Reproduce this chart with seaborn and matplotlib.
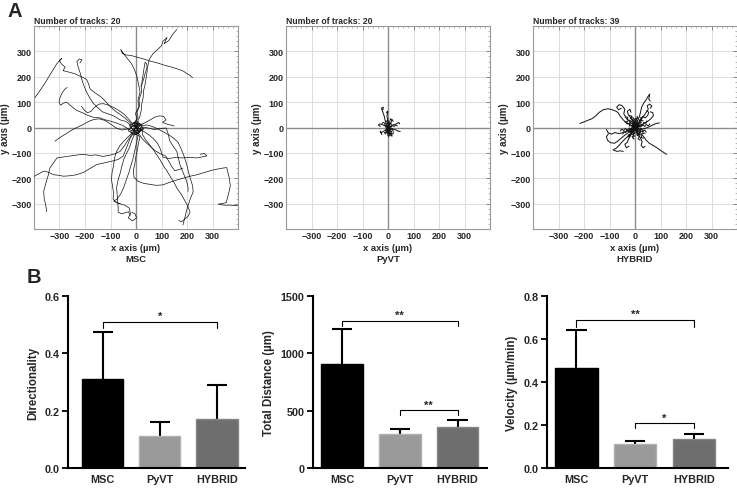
import numpy as np
import pandas as pd
import seaborn as sns
import matplotlib.pyplot as plt
from matplotlib.ticker import MultipleLocator

sns.set_theme(style="white")
plt.rcParams['font.family'] = ['Liberation Sans', 'DejaVu Sans']
plt.rcParams['font.weight'] = 'bold'
plt.rcParams['axes.labelweight'] = 'bold'

# ---- Panel A: cell tracks (x, y in um) ----
msc_tracks = [
    [(0,0),(-12,8),(10,-6),(6,12),(-4,22),(8,38),(4,60),(14,85),(12,110),(22,140),(20,165),(30,190),(36,215),(46,240),(52,268),(66,290),(82,305),(100,322),(106,340),(122,355),(110,330),(128,342),(146,370),(160,386)],
    [(0,0),(14,-8),(22,6),(6,18),(-6,18),(4,34),(-2,55),(10,80),(8,108),(16,140),(10,170),(4,200),(-6,228),(-18,252),(-34,272),(-48,290),(-60,308),(-54,292),(-40,286),(-20,284),(8,276),(30,270),(55,262),(82,255),(110,246),(140,238),(165,230),(186,222),(200,212),(212,205),(222,196)],
    [(0,0),(-8,-14),(6,-22),(18,-8),(4,6),(-12,8),(-26,22),(-42,36),(-60,50),(-78,62),(-92,74),(-110,92),(-126,110),(-142,124),(-160,136),(-180,152),(-186,172),(-194,190),(-214,200),(-240,212),(-262,218),(-286,224),(-278,238),(-292,250),(-300,264),(-292,272),(-310,252),(-326,226),(-342,200),(-360,170),(-378,144),(-396,118)],
    [(0,0),(16,10),(28,-4),(12,-16),(-14,-6),(-22,10),(-40,24),(-62,30),(-88,46),(-110,54),(-132,62),(-152,80),(-168,96),(-182,118),(-194,140),(-204,164),(-212,188),(-218,212),(-226,236),(-232,260),(-222,270),(-212,266),(-220,254)],
    [(0,0),(-10,16),(-26,10),(-18,-4),(-30,-6),(-52,8),(-72,16),(-96,24),(-120,30),(-142,38),(-166,40),(-190,48),(-210,58),(-234,68),(-254,84),(-272,100),(-284,96),(-296,88),(-302,100),(-298,118),(-290,136),(-280,150),(-270,158)],
    [(0,0),(10,-20),(-6,-30),(-22,-18),(-16,-12),(-34,-6),(-56,-10),(-78,-2),(-100,14),(-122,28),(-144,34),(-164,32),(-186,24),(-206,12),(-224,4),(-240,-4),(-258,-14),(-276,-26),(-296,-38),(-318,-54)],
    [(0,0),(20,-6),(10,-24),(-8,-20),(-22,-40),(-34,-72),(-50,-112),(-70,-126),(-92,-132),(-118,-138),(-154,-146),(-178,-160),(-204,-176),(-232,-186),(-258,-190),(-284,-192),(-306,-188),(-324,-186),(-344,-176),(-362,-172),(-380,-182),(-396,-190),(-412,-206)],
    [(0,0),(-20,6),(-30,-14),(-12,-22),(-28,-44),(-44,-70),(-62,-94),(-84,-104),(-106,-110),(-130,-114),(-156,-108),(-180,-110),(-204,-106),(-228,-108),(-256,-112),(-284,-116),(-310,-120),(-324,-140),(-338,-160),(-344,-188),(-352,-214),(-362,-252),(-360,-280),(-354,-306),(-350,-332)],
    [(0,0),(8,14),(-10,20),(-18,2),(-6,-26),(-16,-50),(-26,-80),(-38,-104),(-48,-126),(-56,-154),(-62,-180),(-70,-206),(-76,-236),(-74,-262),(-72,-290),(-70,-316),(-70,-334),(-56,-340),(-42,-336),(-30,-332),(-22,-346)],
    [(0,0),(-14,-8),(-4,-28),(10,-18),(6,-42),(0,-70),(-6,-96),(-12,-124),(-20,-150),(-28,-178),(-38,-206),(-48,-236),(-60,-262),(-74,-282),(-88,-290),(-66,-300),(-44,-306),(-26,-318),(-22,-340),(-30,-356),(-14,-368),(2,-356),(-4,-340),(-16,-334)],
    [(0,0),(-10,-12),(8,-24),(24,-10),(26,-28),(36,-46),(52,-66),(68,-88),(82,-108),(96,-130),(108,-152),(122,-172),(136,-196),(150,-218),(162,-242),(178,-264),(190,-286),(202,-308),(212,-334),(204,-350),(190,-362),(178,-372),(168,-366)],
    [(0,0),(12,-16),(-4,-24),(16,-36),(10,-60),(6,-86),(0,-112),(-4,-140),(-10,-168),(-8,-196),(8,-212),(30,-220),(54,-224),(80,-228),(106,-226),(132,-216),(156,-208),(184,-200),(212,-192),(240,-186),(266,-178),(292,-170),(318,-164),(340,-160),(356,-158),(360,-176),(366,-200),(370,-230),(364,-256),(358,-280),(354,-296),(336,-300),(322,-302),(344,-306),(370,-306),(392,-308),(410,-310)],
    [(0,0),(6,18),(24,12),(18,-8),(34,-18),(52,-30),(68,-44),(84,-62),(96,-86),(106,-118),(130,-122),(156,-118),(182,-120),(210,-118),(238,-120),(258,-116),(278,-112),(268,-102),(252,-106)],
    [(0,0),(-8,20),(8,24),(20,6),(42,10),(64,4),(86,-6),(108,-18),(130,-30),(150,-44),(166,-60),(176,-82),(186,-106),(194,-130),(200,-150),(206,-176),(214,-204),(222,-230),(224,-254),(214,-278),(206,-302),(198,-328),(192,-354),(184,-384)],
    [(0,0),(12,-14),(30,-6),(24,2),(48,-2),(72,-8),(96,-4),(118,-2),(126,-24),(132,-52),(146,-74),(160,-94),(166,-120),(172,-146),(184,-176),(198,-210),(204,-236),(204,-252)],
    [(0,0),(-6,14),(16,10),(34,18),(52,28),(72,40),(92,46),(108,44),(118,30),(104,20),(126,12),(150,6)],
    [(0,0),(14,4),(4,20),(14,40),(20,64),(22,90),(28,118),(30,146),(36,172),(40,198),(44,224),(42,250),(36,258),(32,236),(28,210),(24,184),(22,160)],
    [(0,0),(8,-10),(-10,-16),(-26,-32),(-44,-50),(-62,-70),(-76,-94),(-84,-120),(-88,-150),(-94,-178),(-96,-206),(-92,-232),(-88,-258),(-90,-282),(-76,-296),(-62,-300)],
    [(0,0),(10,12),(-14,16),(-28,32),(-46,52),(-66,66),(-86,78),(-108,88),(-128,94),(-146,92),(-162,80),(-176,64),(-190,58),(-204,70),(-214,84)],
    [(0,0),(-10,-8),(12,-26),(26,-46),(42,-62),(58,-76),(76,-92),(96,-104),(116,-112),(128,-132),(140,-154),(152,-170),(168,-166),(184,-160)],
]

pyvt_tracks = [
    [(0,0),(-4,8),(-8,18),(-12,30),(-14,42),(-18,54),(-22,66),(-26,76),(-18,80),(-20,70)],
    [(0,0),(4,10),(0,22),(-2,34),(-4,46),(-2,56),(-4,62),(-1,64),(-5,58)],
    [(0,0),(8,-2),(16,-4),(24,-8),(32,-10),(40,-14),(48,-16)],
    [(0,0),(10,4),(18,10),(28,12),(36,16),(42,20),(46,14)],
    [(0,0),(4,-8),(8,-16),(4,-24),(10,-30),(16,-34),(12,-26)],
    [(0,0),(-6,-6),(-12,-12),(-20,-16),(-26,-22),(-30,-14),(-24,-28)],
    [(0,0),(-8,4),(-16,8),(-24,12),(-32,14),(-38,10),(-30,4)],
    [(0,0),(4,8),(10,16),(14,26),(8,34),(16,32),(20,24)],
    [(0,0),(6,-6),(-2,-10),(6,-14),(2,-20),(10,-22),(4,-28)],
    [(0,0),(-4,6),(4,10),(-2,14),(6,18),(0,24),(8,26)],
    [(0,0),(8,4),(4,-4),(12,-2),(10,-10),(18,-8),(20,-16)],
    [(0,0),(-6,-2),(-2,-8),(-10,-10),(-6,-18),(-14,-20),(-10,-26)],
    [(0,0),(2,-10),(-4,-16),(2,-22),(-2,-30),(6,-32),(2,-36)],
    [(0,0),(6,6),(12,2),(18,8),(24,4),(30,10),(36,6)],
    [(0,0),(-4,-4),(2,-8),(-6,-12),(0,-16),(-8,-20),(-2,-24)],
    [(0,0),(4,4),(-2,8),(4,12),(-4,16),(2,20),(-6,24),(-2,30)],
    [(0,0),(10,-6),(6,-12),(14,-16),(10,-22),(18,-26),(22,-20)],
    [(0,0),(-10,2),(-6,8),(-14,10),(-10,16),(-18,20),(-24,16)],
    [(0,0),(6,2),(2,6),(8,10),(4,14),(10,18),(14,12)],
    [(0,0),(-2,-6),(4,-10),(0,-14),(6,-18),(2,-22),(8,-26),(14,-22)],
]

hybrid_tracks = [
    [(0,0),(-12,6),(-24,14),(-34,18),(-46,30),(-58,44),(-66,58),(-74,64),(-90,70),(-106,74),(-124,70),(-140,60),(-156,44),(-170,34),(-186,28),(-200,22),(-216,16)],
    [(0,0),(-10,12),(-22,24),(-34,36),(-44,54),(-40,72),(-50,86),(-62,90),(-72,80),(-64,70),(-54,76)],
    [(0,0),(6,14),(12,30),(18,46),(22,62),(26,80),(34,96),(44,110),(52,124),(58,132),(54,112),(60,104)],
    [(0,0),(10,10),(18,24),(28,36),(36,48),(44,60),(52,72),(48,86),(58,92),(66,84),(60,76)],
    [(0,0),(14,4),(28,10),(40,18),(52,26),(62,34),(72,46),(70,58),(60,62)],
    [(0,0),(12,-12),(24,-24),(34,-36),(44,-50),(56,-62),(70,-70),(86,-80),(100,-90),(112,-98),(124,-106)],
    [(0,0),(-14,-10),(-26,-20),(-40,-30),(-54,-42),(-68,-54),(-80,-62),(-96,-60),(-108,-50),(-112,-36),(-104,-24)],
    [(0,0),(-10,-16),(-22,-30),(-36,-42),(-50,-56),(-62,-70),(-74,-82),(-86,-88),(-72,-94),(-58,-92),(-46,-94)],
    [(0,0),(-16,-6),(-30,-14),(-46,-20),(-62,-24),(-78,-20),(-92,-26),(-106,-20),(-112,-8)],
    [(0,0),(8,-14),(14,-28),(22,-42),(28,-56),(24,-70),(32,-80),(40,-74)],
    [(0,0),(-6,-14),(-16,-28),(-24,-42),(-30,-58),(-40,-66),(-34,-80),(-24,-74)],
    [(0,0),(16,-2),(30,-6),(44,-2),(58,4),(70,10),(84,16),(96,18)],
    [(0,0),(-4,14),(-10,28),(-18,40),(-26,50),(-30,64),(-20,72),(-16,60)],
    [(0,0),(14,16),(22,32),(30,44),(40,38),(50,48),(54,60),(46,66)],
    [(0,0),(8,6),(-4,10),(6,16),(-6,20),(4,26),(-2,32),(8,38)],
    [(0,0),(-8,4),(-4,-6),(-14,-2),(-10,-12),(-20,-8),(-18,-18),(-28,-14)],
    [(0,0),(6,-8),(14,-2),(18,-12),(26,-6),(30,-16),(38,-10),(44,-18)],
    [(0,0),(-6,8),(2,14),(-8,18),(0,24),(-10,30),(-4,36),(-14,40)],
    [(0,0),(10,2),(6,12),(16,10),(14,20),(24,18),(22,28),(32,26)],
    [(0,0),(-10,-4),(-6,-14),(-16,-16),(-12,-26),(-22,-28),(-20,-36),(-30,-34)],
    [(0,0),(4,-10),(-6,-14),(0,-22),(-8,-28),(-2,-34),(-10,-40),(-4,-46)],
    [(0,0),(12,-6),(8,-16),(20,-18),(16,-28),(28,-30),(24,-40),(34,-42)],
    [(0,0),(-12,6),(-8,16),(-20,18),(-18,28),(-30,30),(-28,40),(-38,42)],
    [(0,0),(8,10),(16,4),(20,14),(30,10),(34,20),(42,16),(46,26)],
    [(0,0),(-8,-10),(-16,-4),(-22,-14),(-32,-10),(-36,-20),(-44,-16),(-48,-26)],
    [(0,0),(2,12),(12,8),(10,20),(20,18),(16,30),(26,28),(22,40)],
    [(0,0),(-2,-12),(-12,-8),(-10,-20),(-20,-18),(-16,-30),(-26,-28),(-22,-40)],
    [(0,0),(12,2),(10,-8),(22,-6),(20,-16),(32,-14),(30,-24),(40,-22)],
    [(0,0),(-12,-2),(-10,8),(-22,6),(-20,16),(-32,14),(-30,24),(-40,22)],
    [(0,0),(6,6),(0,12),(8,16),(2,22),(10,26),(4,32),(12,36),(8,44)],
    [(0,0),(-6,-6),(0,-12),(-8,-16),(-2,-22),(-10,-26),(-4,-32),(-12,-36)],
    [(0,0),(10,-10),(4,-18),(14,-24),(8,-30),(18,-36),(12,-44),(20,-50)],
    [(0,0),(-10,10),(-4,18),(-14,24),(-8,30),(-18,36),(-12,44),(-22,48)],
    [(0,0),(14,8),(22,2),(30,10),(38,4),(44,12),(52,6),(58,14)],
    [(0,0),(-14,-8),(-22,-2),(-30,-10),(-38,-4),(-44,-12),(-52,-6),(-58,-14)],
    [(0,0),(4,8),(-4,6),(2,14),(-6,12),(0,20),(-8,18),(-2,26)],
    [(0,0),(6,-4),(2,-10),(10,-12),(4,-18),(12,-20),(6,-26),(14,-30)],
    [(0,0),(-4,4),(4,2),(0,8),(8,6),(4,12),(12,10),(8,16)],
    [(0,0),(-2,-6),(-8,-2),(-6,-10),(-12,-6),(-10,-14),(-16,-10),(-14,-18)],
]

track_names = ['MSC', 'PyVT', 'HYBRID']
track_ticks = [-300, -200, -100, 0, 100, 200, 300]

# ---- Panel B: bar charts (mean, SD) ----
groups = ['MSC', 'PyVT', 'HYBRID']
bar_colors = ['#000000', '#9a9a9a', '#6e6e6e']
bar_edges = ['#000000', '#b0b0b0', '#858585']

directionality_mean = [0.31, 0.11, 0.17]
directionality_sd = [0.165, 0.05, 0.12]
distance_mean = [905, 295, 360]
distance_sd = [310, 42, 62]
velocity_mean = [0.466, 0.110, 0.136]
velocity_sd = [0.176, 0.016, 0.020]

# significance brackets: (from, to, height, drop, label)
directionality_sig = [(0, 2, 0.51, 0.022, '*')]
distance_sig = [(0, 2, 1286, 45, '**'), (1, 2, 505, 42, '**')]
velocity_sig = [(0, 2, 0.69, 0.032, '**'), (1, 2, 0.207, 0.023, '*')]


def tracks_df(tracks):
    rows = []
    for i, tr in enumerate(tracks):
        for j, (x, y) in enumerate(tr):
            rows.append((i, j, x, y))
    return pd.DataFrame(rows, columns=['track', 'step', 'x', 'y'])


fig = plt.figure(figsize=(7.37, 4.89), dpi=100)

# top row: track plots
top_lefts = [34, 286, 533]
for left, name, tracks in zip(top_lefts, track_names, [msc_tracks, pyvt_tracks, hybrid_tracks]):
    ax = fig.add_axes([left / 737, 1 - 230 / 489, 204 / 737, 203 / 489])
    ax.grid(True, which='major', color='#dcdcdc', lw=0.7)
    ax.axhline(0, color='#8c8c8c', lw=1.0, zorder=1)
    ax.axvline(0, color='#8c8c8c', lw=1.0, zorder=1)
    df = tracks_df(tracks)
    lw = 0.5 if name == 'MSC' else 0.7
    sns.lineplot(data=df, x='x', y='y', units='track', estimator=None, sort=False,
                 color='#111111', lw=lw, ax=ax, zorder=3)
    ax.set_xlim(-400, 400)
    ax.set_ylim(-400, 400)
    ax.set_xticks(track_ticks)
    ax.set_yticks(track_ticks)
    ax.xaxis.set_minor_locator(MultipleLocator(20))
    ax.yaxis.set_minor_locator(MultipleLocator(20))
    ax.tick_params(which='major', direction='in', length=3, width=0.6, color='#777777',
                   top=True, right=True, labelsize=6.5, pad=1.5)
    ax.tick_params(which='minor', direction='in', length=1.5, width=0.5, color='#999999',
                   top=True, right=True)
    for lab in ax.get_xticklabels() + ax.get_yticklabels():
        lab.set_fontweight('bold')
    for sp in ax.spines.values():
        sp.set_color('#999999')
        sp.set_linewidth(0.8)
    ax.set_xlabel('x axis (\u00b5m)\n' + name, fontsize=6.8, fontweight='bold', labelpad=2, linespacing=1.35)
    ax.set_ylabel('y axis (\u00b5m)', fontsize=7, fontweight='bold', labelpad=1)
    ax.text(0, 1.006, 'Number of tracks: %d' % len(tracks), transform=ax.transAxes,
            ha='left', va='bottom', fontsize=6.2, fontweight='bold')

# bottom row: bar charts
bar_specs = [
    (68, 245, -0.61, 2.49, 0.6, [0.0, 0.2, 0.4, 0.6], '%.1f', 'Directionality',
     directionality_mean, directionality_sd, directionality_sig),
    (313, 487, -0.50, 2.51, 1500, [0, 500, 1000, 1500], '%d', 'Total Distance (\u00b5m)',
     distance_mean, distance_sd, distance_sig),
    (547, 728, -0.50, 2.58, 0.8, [0.0, 0.2, 0.4, 0.6, 0.8], '%.1f', 'Velocity (\u00b5m/min)',
     velocity_mean, velocity_sd, velocity_sig),
]
for left, right, x0, x1, ymax, yt, fmt, ylab, means, sds, sig in bar_specs:
    ax = fig.add_axes([left / 737, 1 - 469 / 489, (right - left) / 737, 172 / 489])
    bdf = pd.DataFrame({'group': groups, 'value': means})
    sns.barplot(data=bdf, x='group', y='value', hue='group', palette=bar_colors,
                width=0.72, errorbar=None, legend=False, ax=ax)
    for p, ec in zip(ax.patches, bar_edges):
        p.set_edgecolor(ec)
        p.set_linewidth(1.0)
        p.set_zorder(2)
    # upper SD only, drawn from the bar top
    xs = np.arange(len(groups))
    tops = np.array(means) + np.array(sds)
    ax.vlines(xs, means, tops, color='black', lw=1.5, zorder=1)
    ax.hlines(tops, xs - 0.175, xs + 0.175, color='black', lw=1.5, zorder=1)
    for a, b, h, d, lab in sig:
        ax.plot([a, a, b, b], [h - d, h, h, h - d], color='black', lw=0.8, zorder=3)
        ax.text((a + b) / 2, h + ymax * 0.004, lab, ha='center', va='bottom',
                fontsize=8, fontweight='bold')
    ax.set_xlim(x0, x1)
    ax.set_ylim(0, ymax)
    ax.set_yticks(yt)
    ax.set_yticklabels([fmt % v for v in yt])
    sns.despine(ax=ax)
    ax.spines['left'].set_linewidth(1.5)
    ax.spines['bottom'].set_linewidth(1.5)
    ax.spines['left'].set_color('black')
    ax.spines['bottom'].set_color('black')
    ax.tick_params(axis='y', direction='out', length=4, width=1.3, color='black',
                   labelsize=7.8, pad=2, left=True)
    ax.tick_params(axis='x', length=0, labelsize=7.8, pad=4)
    for lab in ax.get_xticklabels() + ax.get_yticklabels():
        lab.set_fontweight('bold')
    ax.set_xlabel('')
    ax.set_ylabel(ylab, fontsize=8.3, fontweight='bold', labelpad=4)

# panel letters
fig.text(7 / 737, 1 - 2 / 489, 'A', fontsize=14.5, fontweight='bold', ha='left', va='top')
fig.text(27 / 737, 1 - 268 / 489, 'B', fontsize=14.5, fontweight='bold', ha='left', va='top')

plt.savefig('out.png', dpi=100)
